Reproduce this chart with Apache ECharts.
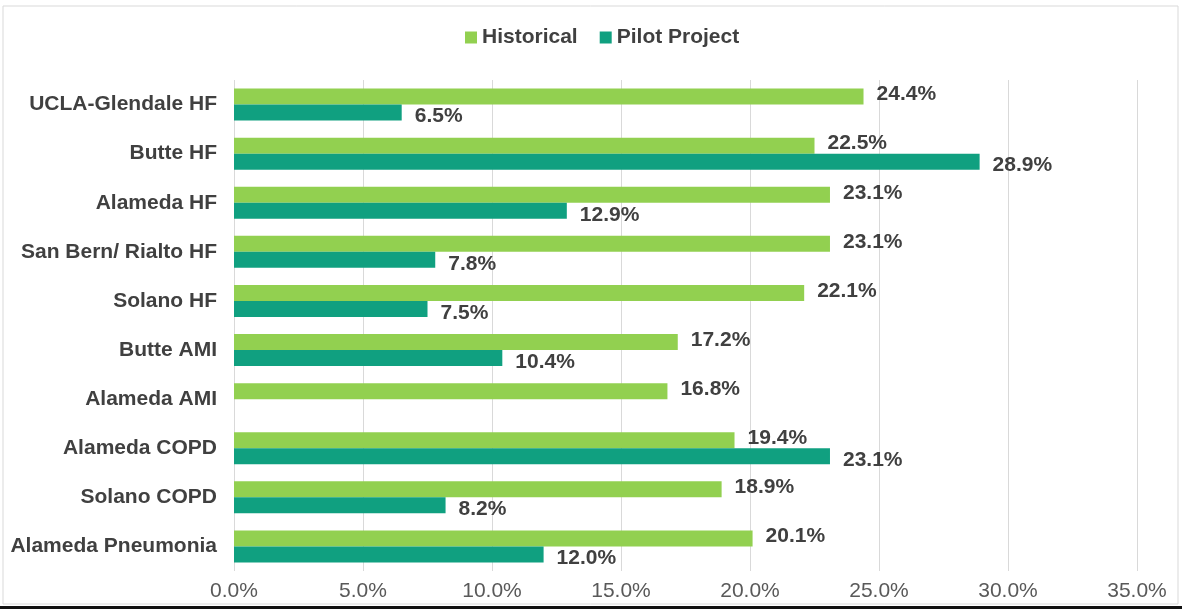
<!DOCTYPE html>
<html>
<head>
<meta charset="utf-8">
<script src="https://cdn.jsdelivr.net/npm/echarts@6/dist/echarts.min.js"></script>
<style>
  html, body { margin: 0; padding: 0; background: #fff; }
  #chart { width: 1182px; height: 609px; }
</style>
</head>
<body>
<div id="chart"></div>
<script>
// categories, top to bottom
const categories = [
  "UCLA-Glendale HF", "Butte HF", "Alameda HF", "San Bern/ Rialto HF", "Solano HF",
  "Butte AMI", "Alameda AMI", "Alameda COPD", "Solano COPD", "Alameda Pneumonia"
];
const historical = [24.4, 22.5, 23.1, 23.1, 22.1, 17.2, 16.8, 19.4, 18.9, 20.1];
const pilotProject = [6.5, 28.9, 12.9, 7.8, 7.5, 10.4, null, 23.1, 8.2, 12.0];

const chart = echarts.init(document.getElementById("chart"));

const labelStyle = {
  show: true,
  position: "right",
  distance: 13,
  fontFamily: "Liberation Sans",
  fontWeight: "bold",
  fontSize: 21,
  color: "#404040",
  formatter: p => p.value.toFixed(1) + "%"
};

const option = {
  animation: false,
  backgroundColor: "#fff",
  textStyle: { fontFamily: "Liberation Sans" },
  graphic: [
    {
      type: "rect",
      shape: { x: 3, y: 6, width: 1175, height: 598 },
      style: { fill: "none", stroke: "#d9d9d9", lineWidth: 1 },
      silent: true
    },
    // dark edge at the bottom of the screenshot
    {
      type: "rect",
      shape: { x: 0, y: 606, width: 1182, height: 3 },
      style: { fill: "#111" },
      silent: true
    }
  ],
  legend: {
    top: 22,
    left: 460,
    itemWidth: 12,
    itemHeight: 12,
    itemGap: 22,
    icon: "rect",
    textStyle: { fontSize: 21, fontWeight: "bold", color: "#404040", fontFamily: "Liberation Sans" },
    data: ["Historical", "Pilot Project"]
  },
  grid: { left: 234, right: 45, top: 80, bottom: 38 },
  xAxis: {
    type: "value",
    min: 0,
    max: 35,
    interval: 5,
    axisLine: { show: false },
    axisTick: { show: false },
    splitLine: { lineStyle: { color: "#d9d9d9", width: 1 } },
    axisLabel: {
      margin: 10,
      fontSize: 21,
      color: "#595959",
      fontFamily: "Liberation Sans",
      formatter: v => v.toFixed(1) + "%"
    }
  },
  yAxis: {
    type: "category",
    inverse: true,
    data: categories,
    axisLine: { show: false },
    axisTick: { show: false },
    axisLabel: {
      margin: 17,
      fontSize: 21,
      fontWeight: "bold",
      color: "#404040",
      fontFamily: "Liberation Sans"
    }
  },
  series: [
    {
      name: "Historical",
      type: "bar",
      data: historical,
      barWidth: 16,
      barGap: "0%",
      itemStyle: { color: "#92d050" },
      label: Object.assign({}, labelStyle, { offset: [0, -2] })
    },
    {
      name: "Pilot Project",
      type: "bar",
      data: pilotProject,
      barWidth: 16,
      itemStyle: { color: "#10a080" },
      label: Object.assign({}, labelStyle, { offset: [0, 4] })
    }
  ]
};

chart.setOption(option);
</script>
</body>
</html>
